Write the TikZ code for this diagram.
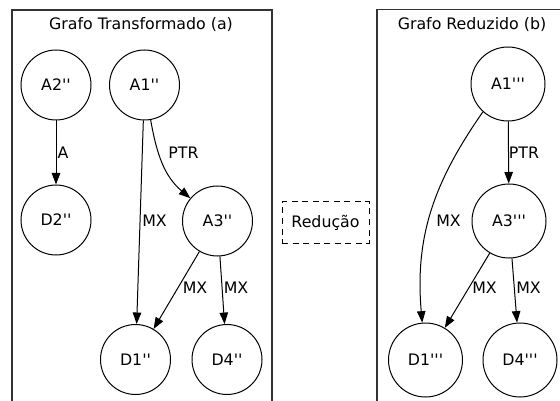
\documentclass[tikz,border=0pt]{standalone}
\usepackage{fontspec}
\setmainfont{DejaVu Sans}
\usetikzlibrary{arrows.meta}
\newcommand{\pp}{\textquotesingle\textquotesingle}
\newcommand{\ppp}{\textquotesingle\textquotesingle\textquotesingle}
\begin{document}
\begin{tikzpicture}[x=1pt,y=1pt,
  font=\fontsize{15.8}{18}\selectfont,
  cluster/.style={draw, line width=1.2pt, draw=black!80},
  gnode/.style={circle, draw, line width=1pt, minimum size=70pt, inner sep=0pt},
  gnodeb/.style={gnode, minimum size=74pt},
  lbl/.style={inner sep=0pt},
  edge/.style={draw, line width=1pt, -{Triangle[length=11.5pt,width=8.5pt]}},
  redbox/.style={draw, dashed, dash pattern=on 6pt off 4.5pt, line width=1pt, minimum width=87pt, minimum height=41pt, inner sep=0pt}
]
\useasboundingbox (0,0) rectangle (560,-401);
\begin{scope}
\clip (0,0) rectangle (560,-401);
\draw[cluster] (12,-10) rectangle (272,-430);
\draw[cluster] (377,-9.5) rectangle (590,-430);
\end{scope}
\node[lbl] (t1) at (141,-25) {Grafo Transformado (a)};
\node[lbl] (t2) at (472,-25) {Grafo Reduzido (b)};

% left graph
\node[gnode] (A2) at (56,-85) {A2\pp};
\node[gnode] (A1) at (144.5,-85) {A1\pp};
\node[gnode] (D2) at (56,-220) {D2\pp};
\node[gnode] (A3) at (217.5,-221) {A3\pp};
\node[gnode] (D1) at (135.5,-359.5) {D1\pp};
\node[gnode] (D4) at (227,-359.5) {D4\pp};

\draw[edge] (A2) -- (D2);
\draw[edge] (A1.-80) to[out=-80,in=140] (A3.140);
\draw[edge] (A1) -- (D1);
\draw[edge] (A3) -- (D1);
\draw[edge] (A3) -- (D4);

\node[lbl] (la) at (63,-153) {A};
\node[lbl] (lptr) at (183.5,-153) {PTR};
\node[lbl] (lmx1) at (154.5,-221) {MX};
\node[lbl] (lmx2) at (195,-288) {MX};
\node[lbl] (lmx3) at (236,-288) {MX};

% reduction box
\node[redbox] (red) at (325.5,-222.5) {Redução};

% right graph
\node[gnodeb] (B1) at (508,-84) {A1\ppp};
\node[gnodeb] (B3) at (509,-221) {A3\ppp};
\node[gnodeb] (E1) at (425.5,-360) {D1\ppp};
\node[gnodeb] (E4) at (520,-360) {D4\ppp};

\draw[edge] (B1) -- (B3);
\draw[edge] (B1.-132) to[out=-125,in=95] (E1.95);
\draw[edge] (B3) -- (E1);
\draw[edge] (B3) -- (E4);

\node[lbl] (rptr) at (524,-153) {PTR};
\node[lbl] (rmx1) at (448.5,-221) {MX};
\node[lbl] (rmx2) at (484.5,-288) {MX};
\node[lbl] (rmx3) at (528.5,-288) {MX};
\end{tikzpicture}
\end{document}
